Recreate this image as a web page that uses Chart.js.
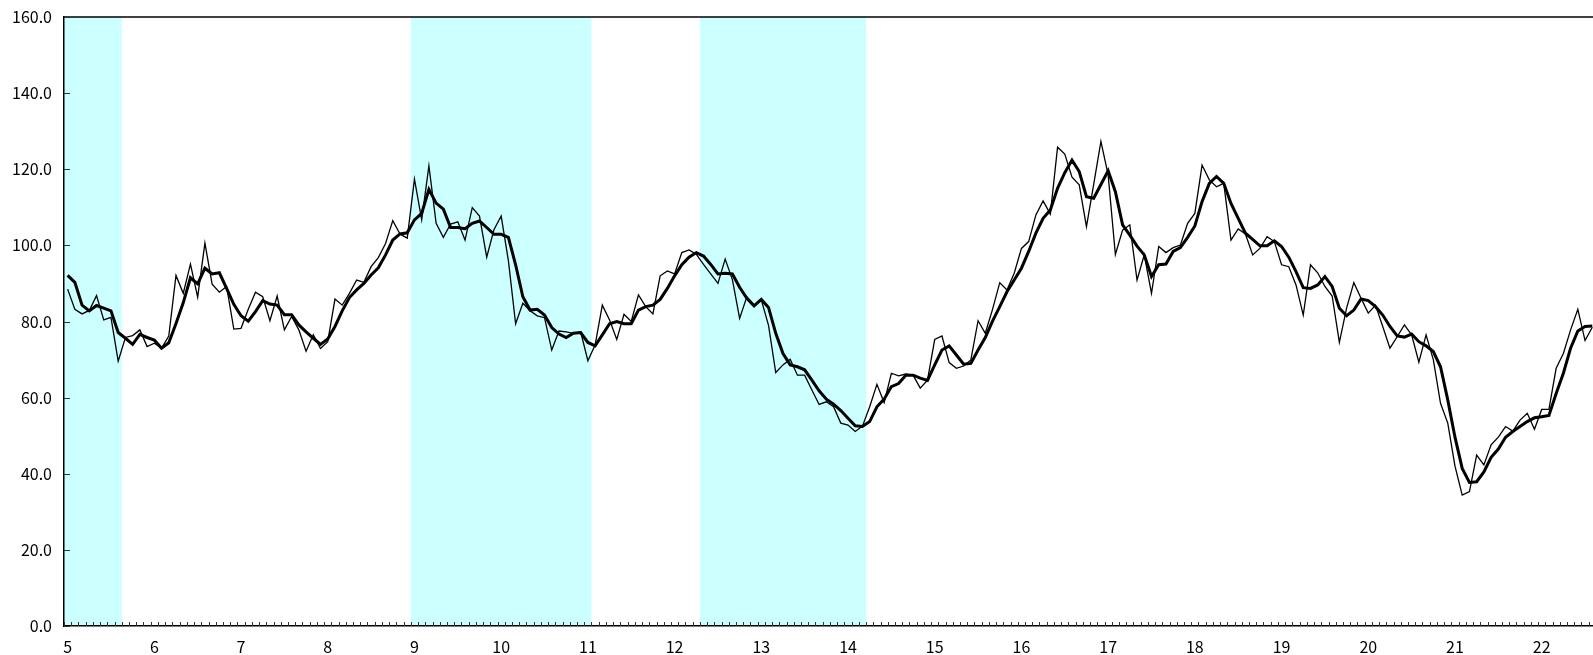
<!DOCTYPE html>
<html><head><meta charset="utf-8">
<script src="https://cdn.jsdelivr.net/npm/chart.js@4/dist/chart.umd.min.js"></script>
<style>html,body{margin:0;padding:0;background:#fff;overflow:hidden}#wrap{width:1593px;height:655px;position:relative}</style>
</head><body><div id="wrap"><canvas id="c"></canvas></div>
<script>
const yearLabels = [5,6,7,8,9,10,11,12,13,14,15,16,17,18,19,20,21,22];
const yTickValues = [0,20,40,60,80,100,120,140,160];

// monthly index (thin line)
const monthly = [
88.5,83.2,82.0,82.9,86.8,80.4,81.1,69.6,75.8,76.3,77.8,73.4,
74.3,73.0,76.2,92.1,87.4,95.1,86.4,100.6,89.8,87.7,89.2,78.0,
78.2,83.2,87.7,86.5,80.2,86.7,77.8,81.3,77.8,72.2,76.5,72.9,
74.7,85.9,84.3,87.4,90.9,90.3,94.4,96.8,100.5,106.5,103.0,101.9,
117.4,106.7,120.9,105.8,102.1,105.6,106.2,101.4,109.9,107.7,96.9,104.1,
107.7,96.0,79.4,84.8,82.8,81.5,81.0,72.5,77.5,77.3,76.9,77.3,
69.7,73.8,84.3,80.4,75.3,81.9,80.0,87.0,83.9,82.0,92.0,93.3,
92.5,98.1,98.8,97.7,95.0,92.5,90.0,96.4,91.0,80.8,86.5,84.3,
85.7,79.0,66.6,68.6,70.1,65.9,65.9,62.0,58.2,58.9,57.6,53.3,
52.8,51.1,52.5,57.6,63.5,58.7,66.4,65.7,66.2,65.9,62.5,64.6,
75.3,76.2,69.2,67.7,68.3,69.9,80.2,76.9,83.2,90.2,88.3,92.7,
99.2,101.0,108.0,111.7,108.2,125.8,124.0,117.9,115.9,104.9,116.0,127.3,
118.5,97.6,104.0,105.4,90.9,97.5,87.4,99.7,98.1,99.4,100.1,105.8,
108.4,121.1,117.2,115.4,116.3,101.4,104.3,103.0,97.5,99.2,102.3,101.0,
94.9,94.4,89.6,81.7,94.9,92.8,89.2,86.7,74.5,83.5,90.2,86.1,
82.2,84.3,78.7,73.0,76.0,79.1,76.5,69.3,76.5,70.0,58.5,53.3,
42.0,34.4,35.3,44.9,42.3,47.6,49.6,52.4,51.2,54.1,55.9,51.7,
56.9,56.9,67.7,71.6,77.8,83.2,75.0,78.5
];

// 3-month moving average (thick line)
const avg3 = [
92.1,90.3,84.3,82.8,84.2,83.5,82.8,77.1,75.6,74.0,76.6,75.8,
75.1,73.0,74.4,79.5,84.9,91.5,89.9,94.0,92.5,92.8,88.7,84.5,
81.5,80.1,82.6,85.5,84.6,84.3,81.8,81.8,79.1,77.3,75.6,74.0,
75.4,78.7,82.8,86.3,88.3,90.0,92.2,94.1,97.5,101.4,103.0,103.3,
106.7,108.4,114.7,111.1,109.5,104.7,104.7,104.4,105.8,106.4,104.7,102.9,
102.9,102.1,94.9,86.5,83.0,83.2,81.7,78.4,76.7,75.8,76.9,77.1,
74.5,73.6,76.5,79.4,80.0,79.4,79.4,83.0,83.9,84.3,85.8,88.7,
92.0,94.9,96.9,98.1,97.2,95.0,92.5,92.7,92.5,89.0,86.1,84.1,
85.8,83.7,76.9,71.6,68.6,68.1,67.3,64.6,61.8,59.6,58.3,56.6,
54.6,52.6,52.4,53.7,57.6,59.6,62.9,63.7,65.9,65.9,65.1,64.5,
68.6,72.5,73.6,71.2,68.8,69.0,72.5,75.8,80.1,83.9,87.8,90.9,
94.0,98.4,103.2,107.1,109.3,115.0,119.1,122.4,119.4,112.8,112.4,116.0,
119.6,114.1,105.4,102.7,99.8,97.5,91.8,94.9,95.1,98.4,99.4,102.1,
105.1,111.5,116.3,118.1,116.3,111.0,107.1,103.2,101.6,99.9,99.9,101.2,
99.7,96.9,93.1,88.9,88.7,89.6,91.8,89.2,83.5,81.5,83.0,85.9,
85.5,83.9,81.7,78.7,76.2,75.9,76.7,74.7,73.6,72.1,68.1,59.4,
49.6,41.4,37.7,37.9,40.5,44.3,46.5,49.6,51.1,52.4,53.7,54.7,
55.0,55.3,61.1,66.4,73.0,77.5,78.7,78.8
];

// shaded periods, in month index (from, to)
const shadeFrom = [-0.5, 47.5, 87.5];
const shadeTo   = [7.5, 72.5, 110.5];

const FONT = '"Noto Sans CJK JP", "DejaVu Sans", sans-serif';

const decor = {
  id: 'decor',
  beforeDraw(chart) {
    const {ctx, chartArea: a, scales: {x}} = chart;
    ctx.save();
    ctx.fillStyle = '#CCFFFF';
    for (let k = 0; k < shadeFrom.length; k++) {
      const x1 = Math.max(x.getPixelForValue(shadeFrom[k]), a.left);
      const x2 = Math.min(x.getPixelForValue(shadeTo[k]), a.right);
      ctx.fillRect(x1, a.top, x2 - x1, a.bottom - a.top);
    }
    ctx.restore();
  },
  afterDraw(chart) {
    const {ctx, chartArea: a, scales: {x, y}} = chart;
    ctx.save();
    ctx.strokeStyle = '#000';
    ctx.lineWidth = 1.5;
    ctx.beginPath();
    ctx.moveTo(a.left, a.top);
    ctx.lineTo(chart.width, a.top);
    ctx.stroke();
    ctx.lineWidth = 1;
    ctx.strokeStyle = '#333';
    ctx.beginPath();
    for (let k = 0; k <= monthly.length; k++) {
      const px = Math.round(x.getPixelForValue(k - 0.5)) + 0.5;
      if (px > chart.width) break;
      ctx.moveTo(px, a.bottom);
      ctx.lineTo(px, a.bottom - 4);
    }
    yTickValues.forEach(v => {
      const py = Math.round(y.getPixelForValue(v)) + 0.5;
      ctx.moveTo(a.left, py);
      ctx.lineTo(a.left + 6, py);
    });
    ctx.stroke();
    ctx.restore();
  }
};

new Chart(document.getElementById('c'), {
  type: 'line',
  data: {
    datasets: [
      {
        label: 'monthly',
        data: monthly.map((v, i) => ({x: i, y: v})),
        borderColor: '#000',
        borderWidth: 1.3,
        pointRadius: 0,
        tension: 0,
        fill: false
      },
      {
        label: '3-month average',
        data: avg3.map((v, i) => ({x: i, y: v})),
        borderColor: '#000',
        borderWidth: 3,
        pointRadius: 0,
        tension: 0,
        fill: false
      }
    ]
  },
  options: {
    responsive: true,
    maintainAspectRatio: false,
    animation: false,
    events: [],
    layout: {padding: {top: 17, right: 0, bottom: 0, left: 0}},
    plugins: {legend: {display: false}, tooltip: {enabled: false}},
    scales: {
      x: {
        type: 'linear',
        min: -0.5,
        max: 211.1,
        afterBuildTicks: s => { s.ticks = yearLabels.map((yr, k) => ({value: k * 12})); },
        afterFit: s => { s.height = 29; s.paddingLeft = 0; s.paddingRight = 0; },
        ticks: {
          autoSkip: false,
          maxRotation: 0,
          padding: 11,
          color: '#000',
          font: {family: FONT, size: 16},
          callback: v => String(yearLabels[Math.round(v / 12)])
        },
        grid: {display: false, drawTicks: false},
        border: {display: true, color: '#000', width: 1.5}
      },
      y: {
        min: 0,
        max: 160,
        afterBuildTicks: s => { s.ticks = yTickValues.map(v => ({value: v})); },
        afterFit: s => { s.width = 64; s.paddingTop = 0; s.paddingBottom = 0; },
        ticks: {
          padding: 12,
          color: '#000',
          font: {family: FONT, size: 16},
          callback: v => Number(v).toFixed(1)
        },
        grid: {display: false, drawTicks: false},
        border: {display: true, color: '#000', width: 1.5}
      }
    }
  },
  plugins: [decor]
});
</script>
</body></html>
